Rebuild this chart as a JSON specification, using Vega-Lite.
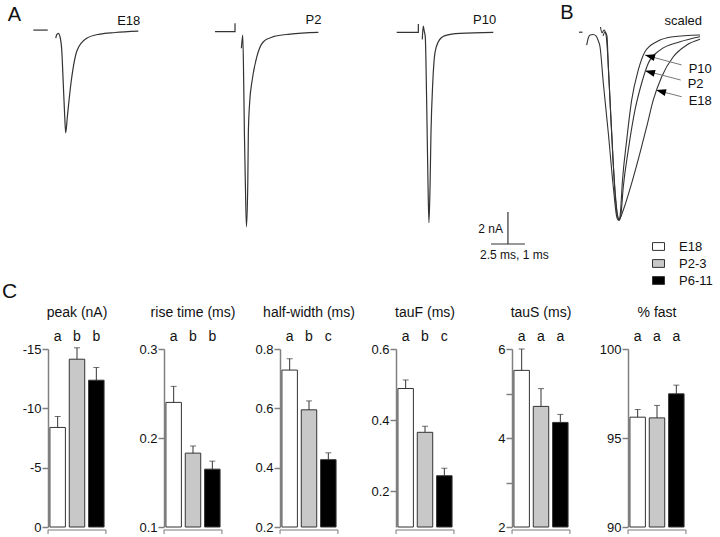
{
  "$schema": "https://vega.github.io/schema/vega-lite/v6.json",
  "padding": 0,
  "background": "white",
  "spacing": 11,
  "config": {
    "font": "Liberation Sans",
    "view": {"stroke": null},
    "axis": {"domainColor": "#808080", "domainWidth": 1.5, "tickColor": "#808080", "tickWidth": 1.5, "tickSize": 6, "labelFontSize": 13, "labelColor": "#111", "labelPadding": 1, "grid": false},
    "title": {"fontSize": 14, "fontWeight": "normal", "color": "#111", "offset": 9},
    "legend": {"orient": "none", "legendX": 604, "legendY": 240, "padding": 0, "symbolType": "M-1,-0.65L1,-0.65L1,0.65L-1,0.65Z", "symbolSize": 144, "symbolStrokeColor": "#333", "symbolStrokeWidth": 1, "labelFontSize": 13, "labelOffset": 14, "rowPadding": 3, "labelColor": "#111"}
  },
  "datasets": {
    "traceA": [
      {"p": "E18", "s": "b", "k": 0, "t": 2.45, "i": 0.12},
      {"p": "E18", "s": "b", "k": 1, "t": 3.51, "i": 0.12},
      {"p": "E18", "s": "tr", "k": 0, "t": 4.10, "i": -0.39},
      {"p": "E18", "s": "tr", "k": 1, "t": 4.17, "i": -0.16},
      {"p": "E18", "s": "tr", "k": 2, "t": 4.29, "i": -0.08},
      {"p": "E18", "s": "tr", "k": 3, "t": 4.41, "i": -0.29},
      {"p": "E18", "s": "tr", "k": 4, "t": 4.54, "i": -1.13},
      {"p": "E18", "s": "tr", "k": 5, "t": 4.65, "i": -3.19},
      {"p": "E18", "s": "tr", "k": 6, "t": 4.76, "i": -5.31},
      {"p": "E18", "s": "tr", "k": 7, "t": 4.83, "i": -6.31},
      {"p": "E18", "s": "tr", "k": 8, "t": 4.95, "i": -5.31},
      {"p": "E18", "s": "tr", "k": 9, "t": 5.22, "i": -3.19},
      {"p": "E18", "s": "tr", "k": 10, "t": 5.68, "i": -1.13},
      {"p": "E18", "s": "tr", "k": 11, "t": 6.38, "i": -0.39},
      {"p": "E18", "s": "tr", "k": 12, "t": 7.35, "i": -0.13},
      {"p": "E18", "s": "tr", "k": 13, "t": 8.46, "i": -0.03},
      {"p": "E18", "s": "tr", "k": 14, "t": 10.17, "i": 0.06},
      {"p": "P2", "s": "b", "k": 0, "t": 15.81, "i": 0.02},
      {"p": "P2", "s": "b", "k": 1, "t": 17.28, "i": 0.02},
      {"p": "P2", "s": "b", "k": 2, "t": 17.28, "i": 0.54},
      {"p": "P2", "s": "tr", "k": 0, "t": 17.75, "i": -1.02},
      {"p": "P2", "s": "tr", "k": 1, "t": 17.85, "i": -0.19},
      {"p": "P2", "s": "tr", "k": 2, "t": 17.92, "i": -3.19},
      {"p": "P2", "s": "tr", "k": 3, "t": 17.97, "i": -6.31},
      {"p": "P2", "s": "tr", "k": 4, "t": 18.04, "i": -9.44},
      {"p": "P2", "s": "tr", "k": 5, "t": 18.12, "i": -12.17},
      {"p": "P2", "s": "tr", "k": 6, "t": 18.22, "i": -9.44},
      {"p": "P2", "s": "tr", "k": 7, "t": 18.26, "i": -6.31},
      {"p": "P2", "s": "tr", "k": 8, "t": 18.37, "i": -4.25},
      {"p": "P2", "s": "tr", "k": 9, "t": 18.51, "i": -3.19},
      {"p": "P2", "s": "tr", "k": 10, "t": 18.88, "i": -1.56},
      {"p": "P2", "s": "tr", "k": 11, "t": 19.37, "i": -0.61},
      {"p": "P2", "s": "tr", "k": 12, "t": 20.10, "i": -0.29},
      {"p": "P2", "s": "tr", "k": 13, "t": 21.33, "i": -0.13},
      {"p": "P2", "s": "tr", "k": 14, "t": 23.41, "i": -0.02},
      {"p": "P10", "s": "b", "k": 0, "t": 29.17, "i": -0.02},
      {"p": "P10", "s": "b", "k": 1, "t": 30.76, "i": -0.02},
      {"p": "P10", "s": "b", "k": 2, "t": 30.76, "i": 0.5},
      {"p": "P10", "s": "tr", "k": 0, "t": 31.05, "i": -0.46},
      {"p": "P10", "s": "tr", "k": 1, "t": 31.12, "i": 0.375},
      {"p": "P10", "s": "tr", "k": 2, "t": 31.20, "i": 0.02},
      {"p": "P10", "s": "tr", "k": 3, "t": 31.27, "i": -0.29},
      {"p": "P10", "s": "tr", "k": 4, "t": 31.37, "i": -4.25},
      {"p": "P10", "s": "tr", "k": 5, "t": 31.47, "i": -9.44},
      {"p": "P10", "s": "tr", "k": 6, "t": 31.54, "i": -11.92},
      {"p": "P10", "s": "tr", "k": 7, "t": 31.62, "i": -9.67},
      {"p": "P10", "s": "tr", "k": 8, "t": 31.69, "i": -6.31},
      {"p": "P10", "s": "tr", "k": 9, "t": 31.82, "i": -3.19},
      {"p": "P10", "s": "tr", "k": 10, "t": 31.98, "i": -1.31},
      {"p": "P10", "s": "tr", "k": 11, "t": 32.23, "i": -0.61},
      {"p": "P10", "s": "tr", "k": 12, "t": 32.72, "i": -0.23},
      {"p": "P10", "s": "tr", "k": 13, "t": 33.82, "i": -0.08},
      {"p": "P10", "s": "tr", "k": 14, "t": 36.27, "i": -0.02}
    ],
    "scalebar": [
      {"dir": "time", "lab": "2.5 ms, 1 ms", "t": 36.10, "t2": 38.60, "i": -13.25, "i2": -13.25},
      {"dir": "current", "lab": "2 nA", "t": 37.35, "t2": 37.35, "i": -11.25, "i2": -13.25}
    ],
    "traceB": [
      {"s": "b", "k": 0, "t": 0.706, "a": 0.015},
      {"s": "b", "k": 1, "t": 0.809, "a": 0.015},
      {"s": "E18", "k": 0, "t": 0.932, "a": -0.054},
      {"s": "E18", "k": 1, "t": 0.979, "a": -0.016},
      {"s": "E18", "k": 2, "t": 1.029, "a": 0.0},
      {"s": "E18", "k": 3, "t": 1.118, "a": 0.003},
      {"s": "E18", "k": 4, "t": 1.206, "a": -0.005},
      {"s": "E18", "k": 5, "t": 1.265, "a": -0.027},
      {"s": "E18", "k": 6, "t": 1.324, "a": -0.063},
      {"s": "E18", "k": 7, "t": 1.421, "a": -0.258},
      {"s": "E18", "k": 8, "t": 1.568, "a": -0.527},
      {"s": "E18", "k": 9, "t": 1.715, "a": -0.817},
      {"s": "E18", "k": 10, "t": 1.815, "a": -0.977},
      {"s": "E18", "k": 11, "t": 1.862, "a": -0.995},
      {"s": "E18", "k": 12, "t": 1.912, "a": -0.987},
      {"s": "E18", "k": 13, "t": 2.009, "a": -0.941},
      {"s": "E18", "k": 14, "t": 2.256, "a": -0.796},
      {"s": "E18", "k": 15, "t": 2.5, "a": -0.634},
      {"s": "E18", "k": 16, "t": 2.697, "a": -0.493},
      {"s": "E18", "k": 17, "t": 2.891, "a": -0.349},
      {"s": "E18", "k": 18, "t": 3.138, "a": -0.224},
      {"s": "E18", "k": 19, "t": 3.479, "a": -0.117},
      {"s": "E18", "k": 20, "t": 3.874, "a": -0.054},
      {"s": "E18", "k": 21, "t": 4.265, "a": -0.023},
      {"s": "P2", "k": 0, "t": 1.412, "a": -0.005},
      {"s": "P2", "k": 1, "t": 1.471, "a": 0.016},
      {"s": "P2", "k": 2, "t": 1.529, "a": -0.005},
      {"s": "P2", "k": 3, "t": 1.568, "a": -0.172},
      {"s": "P2", "k": 4, "t": 1.668, "a": -0.527},
      {"s": "P2", "k": 5, "t": 1.765, "a": -0.849},
      {"s": "P2", "k": 6, "t": 1.844, "a": -0.978},
      {"s": "P2", "k": 7, "t": 1.891, "a": -0.995},
      {"s": "P2", "k": 8, "t": 1.941, "a": -0.962},
      {"s": "P2", "k": 9, "t": 2.009, "a": -0.816},
      {"s": "P2", "k": 10, "t": 2.156, "a": -0.618},
      {"s": "P2", "k": 11, "t": 2.353, "a": -0.403},
      {"s": "P2", "k": 12, "t": 2.55, "a": -0.258},
      {"s": "P2", "k": 13, "t": 2.744, "a": -0.152},
      {"s": "P2", "k": 14, "t": 3.088, "a": -0.081},
      {"s": "P2", "k": 15, "t": 3.676, "a": -0.036},
      {"s": "P2", "k": 16, "t": 4.265, "a": -0.009},
      {"s": "P10", "k": 0, "t": 1.338, "a": 0.043},
      {"s": "P10", "k": 1, "t": 1.382, "a": 0.011},
      {"s": "P10", "k": 2, "t": 1.441, "a": 0.027},
      {"s": "P10", "k": 3, "t": 1.5, "a": 0.0},
      {"s": "P10", "k": 4, "t": 1.559, "a": -0.134},
      {"s": "P10", "k": 5, "t": 1.618, "a": -0.349},
      {"s": "P10", "k": 6, "t": 1.691, "a": -0.618},
      {"s": "P10", "k": 7, "t": 1.765, "a": -0.833},
      {"s": "P10", "k": 8, "t": 1.838, "a": -0.968},
      {"s": "P10", "k": 9, "t": 1.882, "a": -0.995},
      {"s": "P10", "k": 10, "t": 1.926, "a": -0.952},
      {"s": "P10", "k": 11, "t": 1.979, "a": -0.796},
      {"s": "P10", "k": 12, "t": 2.109, "a": -0.565},
      {"s": "P10", "k": 13, "t": 2.256, "a": -0.349},
      {"s": "P10", "k": 14, "t": 2.45, "a": -0.188},
      {"s": "P10", "k": 15, "t": 2.647, "a": -0.09},
      {"s": "P10", "k": 16, "t": 2.991, "a": -0.036},
      {"s": "P10", "k": 17, "t": 3.471, "a": -0.009},
      {"s": "P10", "k": 18, "t": 4.265, "a": 0.0}
    ],
    "arrows": [
      {"lab": "P10", "t1": 3.726, "a1": -0.161, "t2": 2.647, "a2": -0.108},
      {"lab": "P2", "t1": 3.697, "a1": -0.242, "t2": 2.647, "a2": -0.192},
      {"lab": "E18", "t1": 3.726, "a1": -0.332, "t2": 2.971, "a2": -0.296}
    ],
    "bars": [
      {"measure": "peak", "group": "E18", "value": -8.39, "err": -9.32},
      {"measure": "peak", "group": "P2-3", "value": -14.14, "err": -15.1},
      {"measure": "peak", "group": "P6-11", "value": -12.37, "err": -13.44},
      {"measure": "rise", "group": "E18", "value": 0.24, "err": 0.258},
      {"measure": "rise", "group": "P2-3", "value": 0.183, "err": 0.191},
      {"measure": "rise", "group": "P6-11", "value": 0.165, "err": 0.174},
      {"measure": "half", "group": "E18", "value": 0.729, "err": 0.767},
      {"measure": "half", "group": "P2-3", "value": 0.595, "err": 0.625},
      {"measure": "half", "group": "P6-11", "value": 0.427, "err": 0.45},
      {"measure": "tauF", "group": "E18", "value": 0.489, "err": 0.513},
      {"measure": "tauF", "group": "P2-3", "value": 0.366, "err": 0.383},
      {"measure": "tauF", "group": "P6-11", "value": 0.244, "err": 0.265},
      {"measure": "tauS", "group": "E18", "value": 5.52, "err": 6.0},
      {"measure": "tauS", "group": "P2-3", "value": 4.71, "err": 5.11},
      {"measure": "tauS", "group": "P6-11", "value": 4.35, "err": 4.53},
      {"measure": "fast", "group": "E18", "value": 96.17, "err": 96.6},
      {"measure": "fast", "group": "P2-3", "value": 96.13, "err": 96.83},
      {"measure": "fast", "group": "P6-11", "value": 97.48, "err": 97.97}
    ]
  },
  "vconcat": [
    {
      "hconcat": [
        {
          "width": 132, "height": 270,
          "data": {"name": "traceA"},
          "encoding": {
            "x": {"field": "t", "type": "quantitative", "scale": {"domain": [3.529, 13.235], "nice": false, "zero": false}, "axis": null},
            "y": {"field": "i", "type": "quantitative", "scale": {"domain": [-14.875, 2], "nice": false, "zero": false}, "axis": null}
          },
          "layer": [
            {"transform": [{"filter": "datum.p == 'E18' && datum.s == 'tr'"}], "mark": {"type": "line", "color": "#333", "strokeWidth": 1.2, "interpolate": "monotone"}, "encoding": {"order": {"field": "k"}}},
            {"transform": [{"filter": "datum.p == 'E18' && datum.s == 'b'"}], "mark": {"type": "line", "color": "#333", "strokeWidth": 1.2}, "encoding": {"order": {"field": "k"}}},
            {"transform": [{"filter": "datum.p == 'E18' && datum.s == 'b' && datum.k == 0"}], "mark": {"type": "text", "fontSize": 20, "align": "center", "baseline": "middle", "color": "#111", "dx": -19, "dy": -15}, "encoding": {"text": {"value": "A"}}},
            {"transform": [{"filter": "datum.p == 'E18' && datum.s == 'tr' && datum.k == 14"}], "mark": {"type": "text", "fontSize": 13, "align": "right", "baseline": "middle", "color": "#111", "dx": 2, "dy": -10.5}, "encoding": {"text": {"value": "E18"}}}
          ]
        },
        {
          "width": 180, "height": 270,
          "data": {"name": "traceA"},
          "encoding": {
            "x": {"field": "t", "type": "quantitative", "scale": {"domain": [13.235, 26.47], "nice": false, "zero": false}, "axis": null},
            "y": {"field": "i", "type": "quantitative", "scale": {"domain": [-14.875, 2], "nice": false, "zero": false}, "axis": null}
          },
          "layer": [
            {"transform": [{"filter": "datum.p == 'P2' && datum.s == 'tr'"}], "mark": {"type": "line", "color": "#333", "strokeWidth": 1.2, "interpolate": "monotone"}, "encoding": {"order": {"field": "k"}}},
            {"transform": [{"filter": "datum.p == 'P2' && datum.s == 'b'"}], "mark": {"type": "line", "color": "#333", "strokeWidth": 1.2}, "encoding": {"order": {"field": "k"}}},
            {"transform": [{"filter": "datum.p == 'P2' && datum.s == 'tr' && datum.k == 14"}], "mark": {"type": "text", "fontSize": 13, "align": "right", "baseline": "middle", "color": "#111", "dx": 3, "dy": -12}, "encoding": {"text": {"value": "P2"}}}
          ]
        },
        {
          "width": 195, "height": 270,
          "encoding": {
            "x": {"field": "t", "type": "quantitative", "scale": {"domain": [26.47, 40.81], "nice": false, "zero": false}, "axis": null},
            "y": {"field": "i", "type": "quantitative", "scale": {"domain": [-14.875, 2], "nice": false, "zero": false}, "axis": null}
          },
          "layer": [
            {"data": {"name": "traceA"}, "transform": [{"filter": "datum.p == 'P10' && datum.s == 'tr'"}], "mark": {"type": "line", "color": "#333", "strokeWidth": 1.2, "interpolate": "monotone"}, "encoding": {"order": {"field": "k"}}},
            {"data": {"name": "traceA"}, "transform": [{"filter": "datum.p == 'P10' && datum.s == 'b'"}], "mark": {"type": "line", "color": "#333", "strokeWidth": 1.2}, "encoding": {"order": {"field": "k"}}},
            {"data": {"name": "traceA"}, "transform": [{"filter": "datum.p == 'P10' && datum.s == 'tr' && datum.k == 14"}], "mark": {"type": "text", "fontSize": 13, "align": "right", "baseline": "middle", "color": "#111", "dx": 3, "dy": -12}, "encoding": {"text": {"value": "P10"}}},
            {"data": {"name": "scalebar"}, "mark": {"type": "rule", "color": "#333", "strokeWidth": 1.2}, "encoding": {"x2": {"field": "t2"}, "y2": {"field": "i2"}}},
            {"data": {"name": "scalebar"}, "transform": [{"filter": "datum.dir == 'current'"}], "mark": {"type": "text", "fontSize": 12, "align": "right", "baseline": "middle", "color": "#111", "dx": -5, "dy": 17}, "encoding": {"text": {"field": "lab"}}},
            {"data": {"name": "scalebar"}, "transform": [{"filter": "datum.dir == 'time'"}], "mark": {"type": "text", "fontSize": 12, "align": "center", "baseline": "middle", "color": "#111", "dx": 23.5, "dy": 10.5}, "encoding": {"text": {"field": "lab"}}}
          ]
        },
        {
          "width": 165, "height": 270,
          "encoding": {
            "x": {"field": "t", "type": "quantitative", "scale": {"domain": [0, 4.853], "nice": false, "zero": false}, "axis": null},
            "y": {"field": "a", "type": "quantitative", "scale": {"domain": [-1.2634, 0.1882], "nice": false, "zero": false}, "axis": null}
          },
          "layer": [
            {"data": {"name": "traceB"}, "transform": [{"filter": "datum.s != 'b'"}], "mark": {"type": "line", "color": "#333", "strokeWidth": 1.1, "interpolate": "monotone"}, "encoding": {"detail": {"field": "s"}, "order": {"field": "k"}}},
            {"data": {"name": "traceB"}, "transform": [{"filter": "datum.s == 'b'"}], "mark": {"type": "line", "color": "#333", "strokeWidth": 1.2}, "encoding": {"order": {"field": "k"}}},
            {"data": {"name": "traceB"}, "transform": [{"filter": "datum.s == 'b' && datum.k == 0"}], "mark": {"type": "text", "fontSize": 20, "align": "center", "baseline": "middle", "color": "#111", "dx": -12, "dy": -19}, "encoding": {"text": {"value": "B"}}},
            {"data": {"name": "traceB"}, "transform": [{"filter": "datum.s == 'E18' && datum.k == 21"}], "mark": {"type": "text", "fontSize": 13, "align": "right", "baseline": "middle", "color": "#111", "dx": 2, "dy": -18.6}, "encoding": {"text": {"value": "scaled"}}},
            {"data": {"name": "arrows"}, "mark": {"type": "rule", "color": "#777", "strokeWidth": 1}, "encoding": {"x": {"field": "t1", "type": "quantitative"}, "x2": {"field": "t2"}, "y": {"field": "a1", "type": "quantitative"}, "y2": {"field": "a2"}}},
            {"data": {"name": "arrows"}, "mark": {"type": "point", "shape": "M0,0L2,-0.7L2,0.7Z", "filled": true, "color": "#000", "opacity": 1, "size": 100, "angle": 15}, "encoding": {"x": {"field": "t2", "type": "quantitative"}, "y": {"field": "a2", "type": "quantitative"}}},
            {"data": {"name": "arrows"}, "mark": {"type": "text", "fontSize": 13, "align": "left", "baseline": "middle", "color": "#111", "dx": 7, "dy": 4}, "encoding": {"x": {"field": "t1", "type": "quantitative"}, "y": {"field": "a1", "type": "quantitative"}, "text": {"field": "lab"}}}
          ]
        }
      ],
      "spacing": 0,
      "resolve": {"scale": {"x": "independent", "y": "independent"}}
    },
    {
      "hconcat": [
        {
          "width": 58, "height": 178, "title": "peak (nA)",
          "data": {"name": "bars"},
          "transform": [{"filter": "datum.measure == 'peak'"}],
          "encoding": {
            "x": {"field": "group", "type": "nominal", "sort": ["E18", "P2-3", "P6-11"], "scale": {"paddingInner": 0.2, "paddingOuter": 0.1}, "axis": {"orient": "top", "domain": false, "ticks": false, "labelAngle": 0, "labelPadding": 6, "labelFontSize": 14, "title": null, "labelExpr": "datum.value == 'E18' ? 'a' : 'b'"}},
            "y": {"field": "value", "type": "quantitative", "scale": {"domain": [0, -15], "nice": false, "zero": false}, "axis": {"values": [-15, -10, -5, 0], "labelExpr": "datum.value == 0 ? '0' : '-' + abs(datum.value)", "title": null, "minExtent": 48, "maxExtent": 48}}
          },
          "layer": [
            {"mark": {"type": "bar", "stroke": "#333", "strokeWidth": 1},
             "encoding": {"y2": {"datum": 0}, "color": {"field": "group", "type": "nominal", "scale": {"domain": ["E18", "P2-3", "P6-11"], "range": ["#ffffff", "#c8c8c8", "#000000"]}, "title": null}}},
            {"mark": {"type": "rule", "color": "#333", "strokeWidth": 1}, "encoding": {"y2": {"field": "err"}}},
            {"mark": {"type": "tick", "color": "#333", "thickness": 1, "size": 6, "orient": "horizontal"}, "encoding": {"y": {"field": "err", "type": "quantitative"}}},
            {"mark": {"type": "tick", "color": "#808080", "thickness": 1.5, "size": 19.6, "orient": "horizontal", "yOffset": 3}, "encoding": {"y": {"datum": 0, "type": "quantitative"}}},
            {"transform": [{"filter": "datum.group == 'E18'"}], "mark": {"type": "tick", "color": "#808080", "thickness": 1.5, "size": 4, "orient": "vertical", "xOffset": -9.6, "yOffset": 5}, "encoding": {"y": {"datum": 0, "type": "quantitative"}}},
            {"transform": [{"filter": "datum.group == 'P6-11'"}], "mark": {"type": "tick", "color": "#808080", "thickness": 1.5, "size": 4, "orient": "vertical", "xOffset": 9.6, "yOffset": 5}, "encoding": {"y": {"datum": 0, "type": "quantitative"}}}
          ]
        },
        {
          "width": 58, "height": 178, "title": "rise time (ms)",
          "data": {"name": "bars"},
          "transform": [{"filter": "datum.measure == 'rise'"}],
          "encoding": {
            "x": {"field": "group", "type": "nominal", "sort": ["E18", "P2-3", "P6-11"], "scale": {"paddingInner": 0.2, "paddingOuter": 0.1}, "axis": {"orient": "top", "domain": false, "ticks": false, "labelAngle": 0, "labelPadding": 6, "labelFontSize": 14, "title": null, "labelExpr": "datum.value == 'E18' ? 'a' : 'b'"}},
            "y": {"field": "value", "type": "quantitative", "scale": {"domain": [0.1, 0.3], "nice": false, "zero": false}, "axis": {"values": [0.1, 0.2, 0.3], "format": ".1f", "title": null, "minExtent": 30, "maxExtent": 30}}
          },
          "layer": [
            {"mark": {"type": "bar", "stroke": "#333", "strokeWidth": 1},
             "encoding": {"y2": {"datum": 0.1}, "color": {"field": "group", "type": "nominal", "scale": {"domain": ["E18", "P2-3", "P6-11"], "range": ["#ffffff", "#c8c8c8", "#000000"]}, "title": null}}},
            {"mark": {"type": "rule", "color": "#333", "strokeWidth": 1}, "encoding": {"y2": {"field": "err"}}},
            {"mark": {"type": "tick", "color": "#333", "thickness": 1, "size": 6, "orient": "horizontal"}, "encoding": {"y": {"field": "err", "type": "quantitative"}}},
            {"mark": {"type": "tick", "color": "#808080", "thickness": 1.5, "size": 19.6, "orient": "horizontal", "yOffset": 3}, "encoding": {"y": {"datum": 0.1, "type": "quantitative"}}},
            {"transform": [{"filter": "datum.group == 'E18'"}], "mark": {"type": "tick", "color": "#808080", "thickness": 1.5, "size": 4, "orient": "vertical", "xOffset": -9.6, "yOffset": 5}, "encoding": {"y": {"datum": 0.1, "type": "quantitative"}}},
            {"transform": [{"filter": "datum.group == 'P6-11'"}], "mark": {"type": "tick", "color": "#808080", "thickness": 1.5, "size": 4, "orient": "vertical", "xOffset": 9.6, "yOffset": 5}, "encoding": {"y": {"datum": 0.1, "type": "quantitative"}}}
          ]
        },
        {
          "width": 58, "height": 178, "title": "half-width (ms)",
          "data": {"name": "bars"},
          "transform": [{"filter": "datum.measure == 'half'"}],
          "encoding": {
            "x": {"field": "group", "type": "nominal", "sort": ["E18", "P2-3", "P6-11"], "scale": {"paddingInner": 0.2, "paddingOuter": 0.1}, "axis": {"orient": "top", "domain": false, "ticks": false, "labelAngle": 0, "labelPadding": 6, "labelFontSize": 14, "title": null, "labelExpr": "datum.value == 'E18' ? 'a' : datum.value == 'P2-3' ? 'b' : 'c'"}},
            "y": {"field": "value", "type": "quantitative", "scale": {"domain": [0.2, 0.8], "nice": false, "zero": false}, "axis": {"values": [0.2, 0.4, 0.6, 0.8], "format": ".1f", "title": null, "minExtent": 30, "maxExtent": 30}}
          },
          "layer": [
            {"mark": {"type": "bar", "stroke": "#333", "strokeWidth": 1},
             "encoding": {"y2": {"datum": 0.2}, "color": {"field": "group", "type": "nominal", "scale": {"domain": ["E18", "P2-3", "P6-11"], "range": ["#ffffff", "#c8c8c8", "#000000"]}, "title": null}}},
            {"mark": {"type": "rule", "color": "#333", "strokeWidth": 1}, "encoding": {"y2": {"field": "err"}}},
            {"mark": {"type": "tick", "color": "#333", "thickness": 1, "size": 6, "orient": "horizontal"}, "encoding": {"y": {"field": "err", "type": "quantitative"}}},
            {"mark": {"type": "tick", "color": "#808080", "thickness": 1.5, "size": 19.6, "orient": "horizontal", "yOffset": 3}, "encoding": {"y": {"datum": 0.2, "type": "quantitative"}}},
            {"transform": [{"filter": "datum.group == 'E18'"}], "mark": {"type": "tick", "color": "#808080", "thickness": 1.5, "size": 4, "orient": "vertical", "xOffset": -9.6, "yOffset": 5}, "encoding": {"y": {"datum": 0.2, "type": "quantitative"}}},
            {"transform": [{"filter": "datum.group == 'P6-11'"}], "mark": {"type": "tick", "color": "#808080", "thickness": 1.5, "size": 4, "orient": "vertical", "xOffset": 9.6, "yOffset": 5}, "encoding": {"y": {"datum": 0.2, "type": "quantitative"}}}
          ]
        },
        {
          "width": 58, "height": 178, "title": "tauF (ms)",
          "data": {"name": "bars"},
          "transform": [{"filter": "datum.measure == 'tauF'"}],
          "encoding": {
            "x": {"field": "group", "type": "nominal", "sort": ["E18", "P2-3", "P6-11"], "scale": {"paddingInner": 0.2, "paddingOuter": 0.1}, "axis": {"orient": "top", "domain": false, "ticks": false, "labelAngle": 0, "labelPadding": 6, "labelFontSize": 14, "title": null, "labelExpr": "datum.value == 'E18' ? 'a' : datum.value == 'P2-3' ? 'b' : 'c'"}},
            "y": {"field": "value", "type": "quantitative", "scale": {"domain": [0.1, 0.6], "nice": false, "zero": false}, "axis": {"values": [0.2, 0.4, 0.6], "format": ".1f", "title": null, "minExtent": 30, "maxExtent": 30}}
          },
          "layer": [
            {"mark": {"type": "bar", "stroke": "#333", "strokeWidth": 1},
             "encoding": {"y2": {"datum": 0.1}, "color": {"field": "group", "type": "nominal", "scale": {"domain": ["E18", "P2-3", "P6-11"], "range": ["#ffffff", "#c8c8c8", "#000000"]}, "title": null}}},
            {"mark": {"type": "rule", "color": "#333", "strokeWidth": 1}, "encoding": {"y2": {"field": "err"}}},
            {"mark": {"type": "tick", "color": "#333", "thickness": 1, "size": 6, "orient": "horizontal"}, "encoding": {"y": {"field": "err", "type": "quantitative"}}},
            {"mark": {"type": "tick", "color": "#808080", "thickness": 1.5, "size": 19.6, "orient": "horizontal", "yOffset": 3}, "encoding": {"y": {"datum": 0.1, "type": "quantitative"}}},
            {"transform": [{"filter": "datum.group == 'E18'"}], "mark": {"type": "tick", "color": "#808080", "thickness": 1.5, "size": 4, "orient": "vertical", "xOffset": -9.6, "yOffset": 5}, "encoding": {"y": {"datum": 0.1, "type": "quantitative"}}},
            {"transform": [{"filter": "datum.group == 'P6-11'"}], "mark": {"type": "tick", "color": "#808080", "thickness": 1.5, "size": 4, "orient": "vertical", "xOffset": 9.6, "yOffset": 5}, "encoding": {"y": {"datum": 0.1, "type": "quantitative"}}}
          ]
        },
        {
          "width": 58, "height": 178, "title": "tauS (ms)",
          "data": {"name": "bars"},
          "transform": [{"filter": "datum.measure == 'tauS'"}],
          "encoding": {
            "x": {"field": "group", "type": "nominal", "sort": ["E18", "P2-3", "P6-11"], "scale": {"paddingInner": 0.2, "paddingOuter": 0.1}, "axis": {"orient": "top", "domain": false, "ticks": false, "labelAngle": 0, "labelPadding": 6, "labelFontSize": 14, "title": null, "labelExpr": "'a'"}},
            "y": {"field": "value", "type": "quantitative", "scale": {"domain": [2, 6], "nice": false, "zero": false}, "axis": {"values": [2, 3, 4, 5, 6], "labelExpr": "datum.value % 2 == 0 ? datum.label : ''", "title": null, "minExtent": 30, "maxExtent": 30}}
          },
          "layer": [
            {"mark": {"type": "bar", "stroke": "#333", "strokeWidth": 1},
             "encoding": {"y2": {"datum": 2}, "color": {"field": "group", "type": "nominal", "scale": {"domain": ["E18", "P2-3", "P6-11"], "range": ["#ffffff", "#c8c8c8", "#000000"]}, "title": null}}},
            {"mark": {"type": "rule", "color": "#333", "strokeWidth": 1}, "encoding": {"y2": {"field": "err"}}},
            {"mark": {"type": "tick", "color": "#333", "thickness": 1, "size": 6, "orient": "horizontal"}, "encoding": {"y": {"field": "err", "type": "quantitative"}}},
            {"mark": {"type": "tick", "color": "#808080", "thickness": 1.5, "size": 19.6, "orient": "horizontal", "yOffset": 3}, "encoding": {"y": {"datum": 2, "type": "quantitative"}}},
            {"transform": [{"filter": "datum.group == 'E18'"}], "mark": {"type": "tick", "color": "#808080", "thickness": 1.5, "size": 4, "orient": "vertical", "xOffset": -9.6, "yOffset": 5}, "encoding": {"y": {"datum": 2, "type": "quantitative"}}},
            {"transform": [{"filter": "datum.group == 'P6-11'"}], "mark": {"type": "tick", "color": "#808080", "thickness": 1.5, "size": 4, "orient": "vertical", "xOffset": 9.6, "yOffset": 5}, "encoding": {"y": {"datum": 2, "type": "quantitative"}}}
          ]
        },
        {
          "width": 58, "height": 178, "title": "% fast",
          "data": {"name": "bars"},
          "transform": [{"filter": "datum.measure == 'fast'"}],
          "encoding": {
            "x": {"field": "group", "type": "nominal", "sort": ["E18", "P2-3", "P6-11"], "scale": {"paddingInner": 0.2, "paddingOuter": 0.1}, "axis": {"orient": "top", "domain": false, "ticks": false, "labelAngle": 0, "labelPadding": 6, "labelFontSize": 14, "title": null, "labelExpr": "'a'"}},
            "y": {"field": "value", "type": "quantitative", "scale": {"domain": [90, 100], "nice": false, "zero": false}, "axis": {"values": [90, 95, 100], "format": "d", "title": null, "minExtent": 30, "maxExtent": 30}}
          },
          "layer": [
            {"mark": {"type": "bar", "stroke": "#333", "strokeWidth": 1},
             "encoding": {"y2": {"datum": 90}, "color": {"field": "group", "type": "nominal", "scale": {"domain": ["E18", "P2-3", "P6-11"], "range": ["#ffffff", "#c8c8c8", "#000000"]}, "title": null}}},
            {"mark": {"type": "rule", "color": "#333", "strokeWidth": 1}, "encoding": {"y2": {"field": "err"}}},
            {"mark": {"type": "tick", "color": "#333", "thickness": 1, "size": 6, "orient": "horizontal"}, "encoding": {"y": {"field": "err", "type": "quantitative"}}},
            {"mark": {"type": "tick", "color": "#808080", "thickness": 1.5, "size": 19.6, "orient": "horizontal", "yOffset": 3}, "encoding": {"y": {"datum": 90, "type": "quantitative"}}},
            {"transform": [{"filter": "datum.group == 'E18'"}], "mark": {"type": "tick", "color": "#808080", "thickness": 1.5, "size": 4, "orient": "vertical", "xOffset": -9.6, "yOffset": 5}, "encoding": {"y": {"datum": 90, "type": "quantitative"}}},
            {"transform": [{"filter": "datum.group == 'P6-11'"}], "mark": {"type": "tick", "color": "#808080", "thickness": 1.5, "size": 4, "orient": "vertical", "xOffset": 9.6, "yOffset": 5}, "encoding": {"y": {"datum": 90, "type": "quantitative"}}}
          ]
        }
      ],
      "spacing": 58,
      "bounds": "flush",
      "title": {"text": "C", "anchor": "start", "fontSize": 21, "fontWeight": "normal", "dx": 2, "offset": 4},
      "resolve": {"scale": {"x": "independent", "y": "independent"}}
    }
  ]
}
